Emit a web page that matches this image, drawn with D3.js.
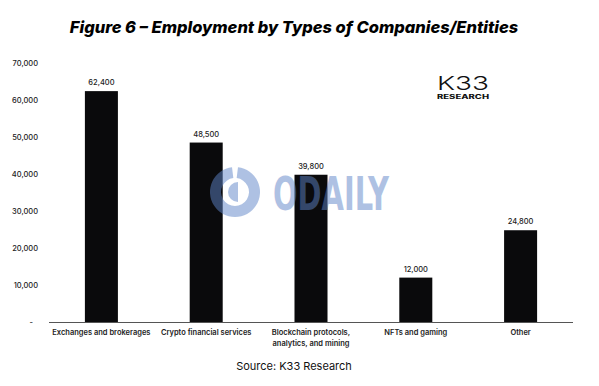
<!DOCTYPE html>
<html>
<head>
<meta charset="utf-8">
<script src="https://cdn.jsdelivr.net/npm/d3@7"></script>
<style>
  body { margin: 0; background: #fff; }
  svg { display: block; font-family: "Inter", "Noto Sans", sans-serif; }
</style>
</head>
<body>
<div id="chart"></div>
<script>
// Data
const categories = [
  ["Exchanges and brokerages"],
  ["Crypto financial services"],
  ["Blockchain protocols,", "analytics, and mining"],
  ["NFTs and gaming"],
  ["Other"]
];
const employees = [62400, 48500, 39800, 12000, 24800];
const yTicks = [0, 10000, 20000, 30000, 40000, 50000, 60000, 70000];

const width = 599;
const height = 386;
const margin = { top: 63, right: 26, bottom: 64, left: 49 };

const svg = d3.select("#chart").append("svg")
  .attr("width", width)
  .attr("height", height);

const x = d3.scaleBand()
  .domain(d3.range(categories.length))
  .range([margin.left, width - margin.right])
  .paddingInner(0.685)
  .paddingOuter(0.3425);

const y = d3.scaleLinear()
  .domain([0, 70000])
  .range([height - margin.bottom, margin.top]);

// Title
svg.append("text")
  .attr("x", 294)
  .attr("y", 33)
  .attr("text-anchor", "middle")
  .style("font-size", "16.5px")
  .style("font-weight", 800)
  .style("font-style", "italic")
  .attr("fill", "#000")
  .text("Figure 6 – Employment by Types of Companies/Entities");

// Y axis (labels only)
const fmt = d3.format(",");
const yAxis = svg.append("g")
  .attr("transform", `translate(${margin.left - 11},0)`)
  .call(d3.axisLeft(y).tickValues(yTicks).tickSize(0).tickPadding(0)
    .tickFormat(d => d === 0 ? "-" : fmt(d)));
yAxis.select(".domain").remove();
yAxis.selectAll("text")
  .style("font-family", "Inter, sans-serif")
  .style("font-size", "7.5px")
  .style("font-weight", 500)
  .attr("fill", "#222");
yAxis.selectAll("text").filter(d => d === 0).attr("dx", -5);

// Bars
svg.append("g")
  .selectAll("rect")
  .data(employees)
  .join("rect")
    .attr("x", (d, i) => x(i))
    .attr("y", d => y(d))
    .attr("width", x.bandwidth())
    .attr("height", d => y(0) - y(d))
    .attr("fill", "#0a0a0c");

// Value labels
svg.append("g")
  .selectAll("text")
  .data(employees)
  .join("text")
    .attr("x", (d, i) => x(i) + x.bandwidth() / 2)
    .attr("y", d => y(d) - 6)
    .attr("text-anchor", "middle")
    .style("font-size", "7.5px")
    .style("font-weight", 500)
    .attr("fill", "#222")
    .text(d => fmt(d));

// Baseline
svg.append("line")
  .attr("x1", margin.left)
  .attr("x2", width - margin.right)
  .attr("y1", y(0) + 0.5)
  .attr("y2", y(0) + 0.5)
  .attr("stroke", "#555")
  .attr("stroke-width", 1);

// Category labels
const cat = svg.append("g")
  .selectAll("text")
  .data(categories)
  .join("text")
    .attr("x", (d, i) => x(i) + x.bandwidth() / 2)
    .attr("y", y(0) + 13)
    .attr("text-anchor", "middle")
    .style("font-size", "7.5px")
    .style("font-weight", 600)
    .attr("fill", "#222");
cat.selectAll("tspan")
  .data(d => d)
  .join("tspan")
    .attr("x", function() { return this.parentNode.getAttribute("x"); })
    .attr("dy", (d, i) => i === 0 ? 0 : 11)
    .text(d => d);

// Source
svg.append("text")
  .attr("x", 294)
  .attr("y", 370)
  .attr("text-anchor", "middle")
  .style("font-size", "11px")
  .attr("fill", "#111")
  .text("Source: K33 Research");

// K33 logo
const logo = svg.append("g").attr("transform", "translate(437,90)");
logo.append("text")
  .attr("x", 0).attr("y", 0)
  .attr("textLength", 52)
  .attr("lengthAdjust", "spacingAndGlyphs")
  .style("font-size", "19px")
  .style("font-weight", 300)
  .attr("fill", "#111")
  .text("K33");
logo.append("text")
  .attr("x", 0).attr("y", 8.5)
  .attr("textLength", 52)
  .attr("lengthAdjust", "spacingAndGlyphs")
  .style("font-size", "6px")
  .style("font-weight", 800)
  .attr("fill", "#111")
  .text("RESEARCH");

// Watermark
const wm = svg.append("g").attr("opacity", 0.5).attr("fill", "#5f85c8");
wm.append("path")
  .attr("d", d3.arc()({ innerRadius: 14, outerRadius: 25, startAngle: 0.12, endAngle: 2 * Math.PI - 0.12 }))
  .attr("transform", "translate(235,192)");
wm.append("path")
  .attr("d", d3.arc()({ innerRadius: 0, outerRadius: 10, startAngle: Math.PI, endAngle: 2 * Math.PI }))
  .attr("transform", "translate(238,192)");
wm.append("text")
  .attr("x", 273)
  .attr("y", 210)
  .attr("textLength", 116)
  .attr("lengthAdjust", "spacingAndGlyphs")
  .style("font-family", "'Liberation Sans Narrow', 'DejaVu Sans Condensed', sans-serif")
  .style("font-size", "46px")
  .style("font-weight", 700)
  .text("ODAILY");
</script>
</body>
</html>
